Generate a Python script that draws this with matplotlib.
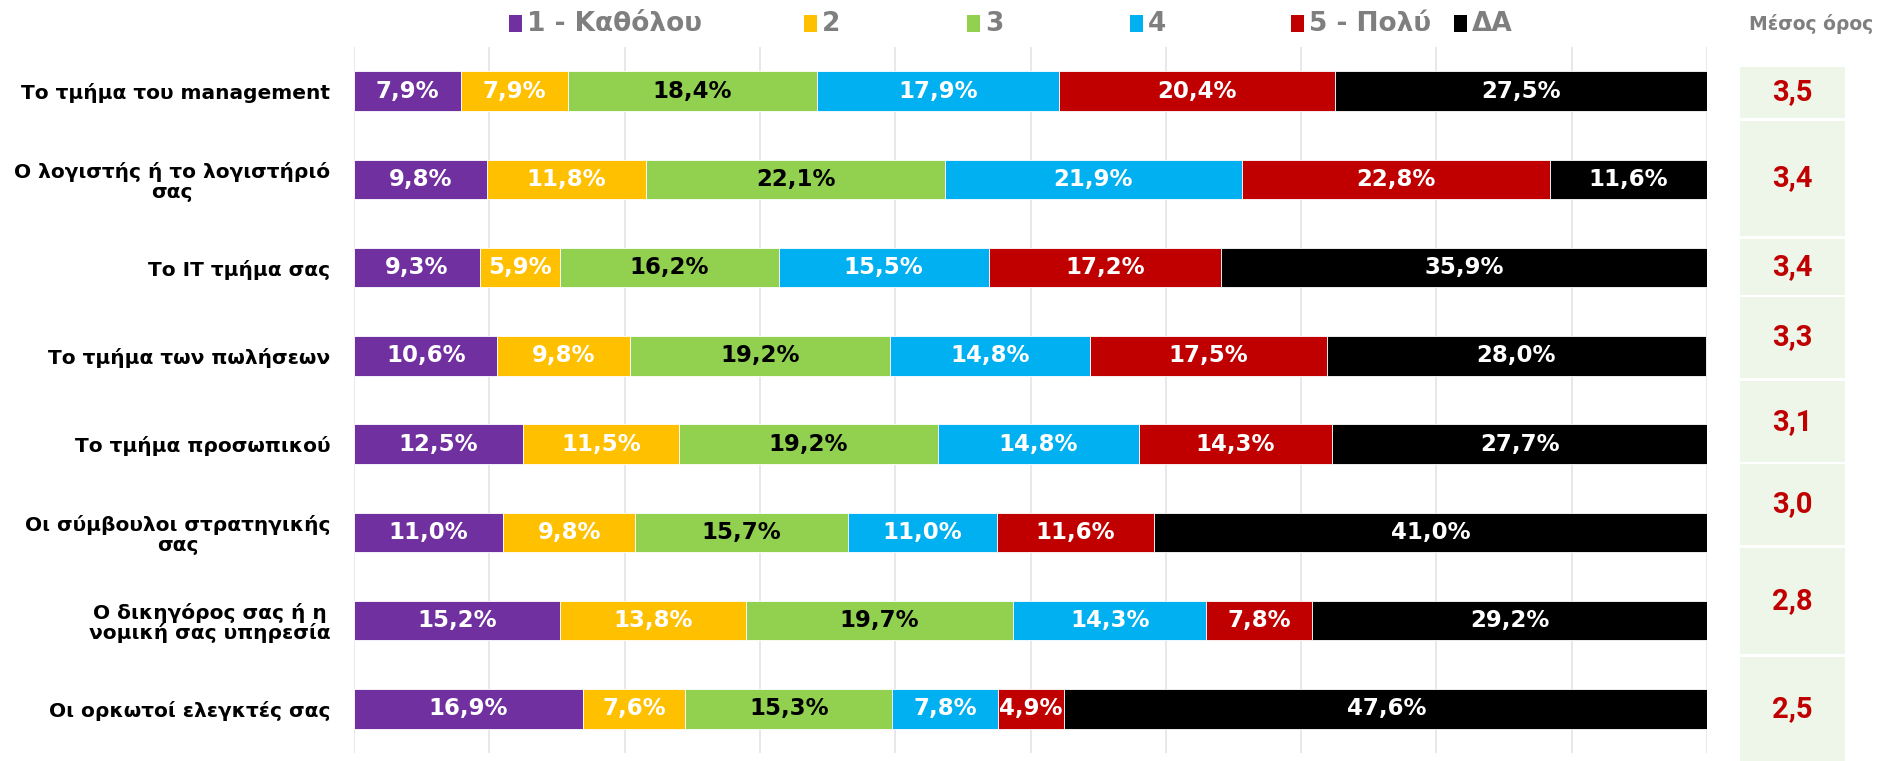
import matplotlib.pyplot as plt
import numpy as np
from matplotlib.patches import Rectangle

# Data
categories = [
    "Το τμήμα του management",
    "Ο λογιστής ή το λογιστήριό\nσας",
    "Το IT τμήμα σας",
    "Το τμήμα των πωλήσεων",
    "Το τμήμα προσωπικού",
    "Οι σύμβουλοι στρατηγικής\nσας",
    "Ο δικηγόρος σας ή η\nνομική σας υπηρεσία",
    "Οι ορκωτοί ελεγκτές σας",
]
series_names = ["1 - Καθόλου", "2", "3", "4", "5 - Πολύ", "ΔΑ"]
s1 = [7.9, 9.8, 9.3, 10.6, 12.5, 11.0, 15.2, 16.9]
s2 = [7.9, 11.8, 5.9, 9.8, 11.5, 9.8, 13.8, 7.6]
s3 = [18.4, 22.1, 16.2, 19.2, 19.2, 15.7, 19.7, 15.3]
s4 = [17.9, 21.9, 15.5, 14.8, 14.8, 11.0, 14.3, 7.8]
s5 = [20.4, 22.8, 17.2, 17.5, 14.3, 11.6, 7.8, 4.9]
s_da = [27.5, 11.6, 35.9, 28.0, 27.7, 41.0, 29.2, 47.6]
means = [3.5, 3.4, 3.4, 3.3, 3.1, 3.0, 2.8, 2.5]

colors = ["#7030A0", "#FFC000", "#92D050", "#00B0F0", "#C00000", "#000000"]
text_colors = ["white", "white", "black", "white", "white", "white"]

# layout: mean-table row bounds (category units), legend entry x (pixels)
cell_rows = [(-0.27, 0.30), (0.34, 1.64), (1.68, 2.31), (2.33, 3.25),
             (3.29, 4.20), (4.23, 5.14), (5.18, 6.38), (6.41, 7.59)]
legend_x = [509, 804, 967, 1130, 1291, 1454]

W, H = 1879, 761
fig = plt.figure(figsize=(W / 100, H / 100), dpi=100)
ax = fig.add_axes([354 / W, 1 - 753 / H, (1707 - 354) / W, (753 - 47) / H])

y = np.arange(len(categories))
left = np.zeros(len(categories))
for vals, name, c, tc in zip([s1, s2, s3, s4, s5, s_da], series_names, colors, text_colors):
    bars = ax.barh(y, vals, left=left, height=0.45, color=c, edgecolor="white",
                   linewidth=0.6, label=name, zorder=3)
    for b, v in zip(bars, vals):
        ax.text(b.get_x() + b.get_width() / 2, b.get_y() + b.get_height() / 2,
                f"{v:.1f}%".replace(".", ","), ha="center", va="center",
                color=tc, fontsize=16.5, fontweight="bold", zorder=4)
    left += np.array(vals)

ax.set_xlim(0, 100)
ax.set_ylim(len(categories) - 0.5, -0.5)
ax.set_xticks(np.arange(0, 101, 10))
ax.set_xticklabels([])
ax.set_yticks(y)
ax.set_yticklabels(categories, fontsize=14.5, fontweight="bold")
for lbl in ax.get_yticklabels():
    lbl.set_multialignment("center")
    lbl.set_linespacing(1.05)
ax.tick_params(length=0, pad=17)
ax.grid(axis="x", color="#E6E6E6", linewidth=1.3, zorder=0)
for s in ax.spines.values():
    s.set_visible(False)

# legend
for x0, c, n in zip(legend_x, colors, series_names):
    fig.patches.append(Rectangle((x0 / W, 1 - 32 / H), 13 / W, 17 / H, facecolor=c,
                                 transform=fig.transFigure, figure=fig))
    fig.text((x0 + 18) / W, 1 - 24 / H, n, ha="left", va="center",
             color="#7F7F7F", fontsize=19, fontweight="bold")

# mean column
axm = fig.add_axes([1740 / W, 1 - 753 / H, (1845 - 1740) / W, (753 - 47) / H], sharey=ax)
axm.set_xlim(0, 1)
axm.axis("off")
for (top, bot), m in zip(cell_rows, means):
    axm.add_patch(Rectangle((0, top), 1, bot - top, facecolor="#EEF5E9",
                            edgecolor="none", clip_on=False))
    axm.text(0.5, (top + bot) / 2, f"{m:.1f}".replace(".", ","), ha="center",
             va="center", color="#C00000", fontsize=21, fontweight="bold",
             family="Roboto", clip_on=False)
fig.text(1811 / W, 1 - 24 / H, "Μέσος όρος", ha="center", va="center",
         color="#7F7F7F", fontsize=13.5, fontweight="bold")

fig.savefig("out.png", dpi=100)
